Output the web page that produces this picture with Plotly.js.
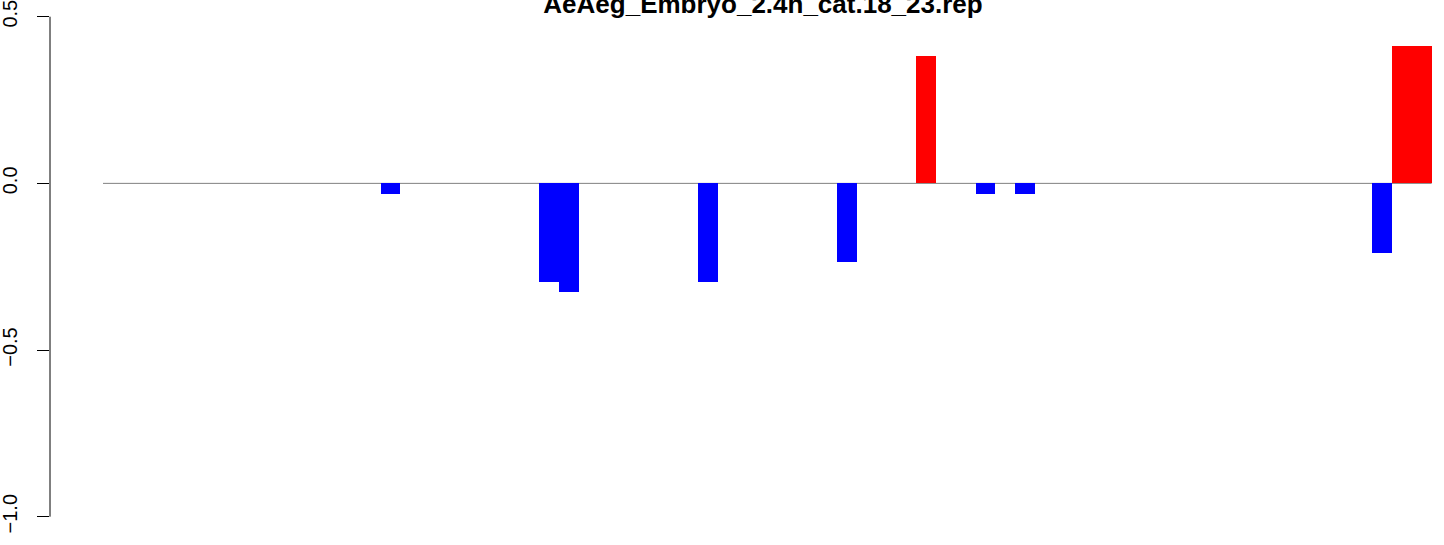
<!DOCTYPE html>
<html>
<head>
<meta charset="utf-8">
<script src="https://cdn.plot.ly/plotly-3.0.1.min.js"></script>
<style>html,body{margin:0;padding:0;background:#fff;}#chart{width:1444px;height:545px;}</style>
</head>
<body>
<div id="chart"></div>
<script>
// Bar slot positions (0..66) that carry a non-zero value, and their values
const slots = [14, 22, 23, 30, 37, 41, 44, 46, 64, 65, 66];
const values = [-0.031, -0.295, -0.325, -0.295, -0.235, 0.382, -0.031, -0.031, -0.209, 0.412, 0.412];
const nSlots = 67;
const yTickVals = [-1, -0.5, 0, 0.5];
const yTickText = ['\u22121.0', '\u22120.5', '0.0', '0.5'];
const titleText = 'AeAeg_Embryo_2.4h_cat.18_23.rep';

const colors = values.map(v => v >= 0 ? '#ff0000' : '#0000ff');

const trace = {
  type: 'bar',
  x: slots,
  y: values,
  width: 1,
  marker: {color: colors, line: {width: 0}},
  hoverinfo: 'x+y'
};

const layout = {
  width: 1444,
  height: 545,
  margin: {l: 50, r: 0, t: 0, b: 8, pad: 0},
  paper_bgcolor: '#ffffff',
  plot_bgcolor: '#ffffff',
  showlegend: false,
  bargap: 0,
  font: {family: 'Liberation Sans, Arial, Helvetica, sans-serif', color: '#000'},
  title: {
    text: titleText,
    font: {size: 26, weight: 'bold', family: 'Liberation Sans, Arial, sans-serif', color: '#000'},
    xref: 'container', x: 763 / 1444, xanchor: 'center',
    yref: 'container', y: 1 - 13 / 545, yanchor: 'bottom'
  },
  xaxis: {
    range: [-0.5 - 53 / 19.83, -0.5 + (1444 - 103) / 19.83],
    showgrid: false, zeroline: false, showline: false,
    showticklabels: false, ticks: ''
  },
  yaxis: {
    range: [-1 - (537 - 516.7) / 333.33, 0.5 + 16.7 / 333.33],
    showgrid: false, zeroline: false, showline: false,
    tickmode: 'array', tickvals: yTickVals, ticktext: yTickText,
    ticks: 'outside', ticklen: 12, tickwidth: 1, tickcolor: '#000',
    tickangle: -90, ticklabelstandoff: 12, ticklabeloverflow: 'allow',
    tickfont: {size: 20, color: '#000', family: 'Liberation Sans, Arial, sans-serif'}
  },
  shapes: [
    {type: 'line', xref: 'paper', yref: 'y', x0: 0, x1: 0, y0: yTickVals[0], y1: yTickVals[yTickVals.length - 1],
     line: {color: '#000', width: 1}},
    {type: 'line', xref: 'x', yref: 'y', x0: -0.5, x1: nSlots - 0.5, y0: 0, y1: 0,
     line: {color: '#808080', width: 1}, layer: 'below'}
  ]
};

Plotly.newPlot('chart', [trace], layout, {staticPlot: true, displayModeBar: false});
</script>
</body>
</html>
